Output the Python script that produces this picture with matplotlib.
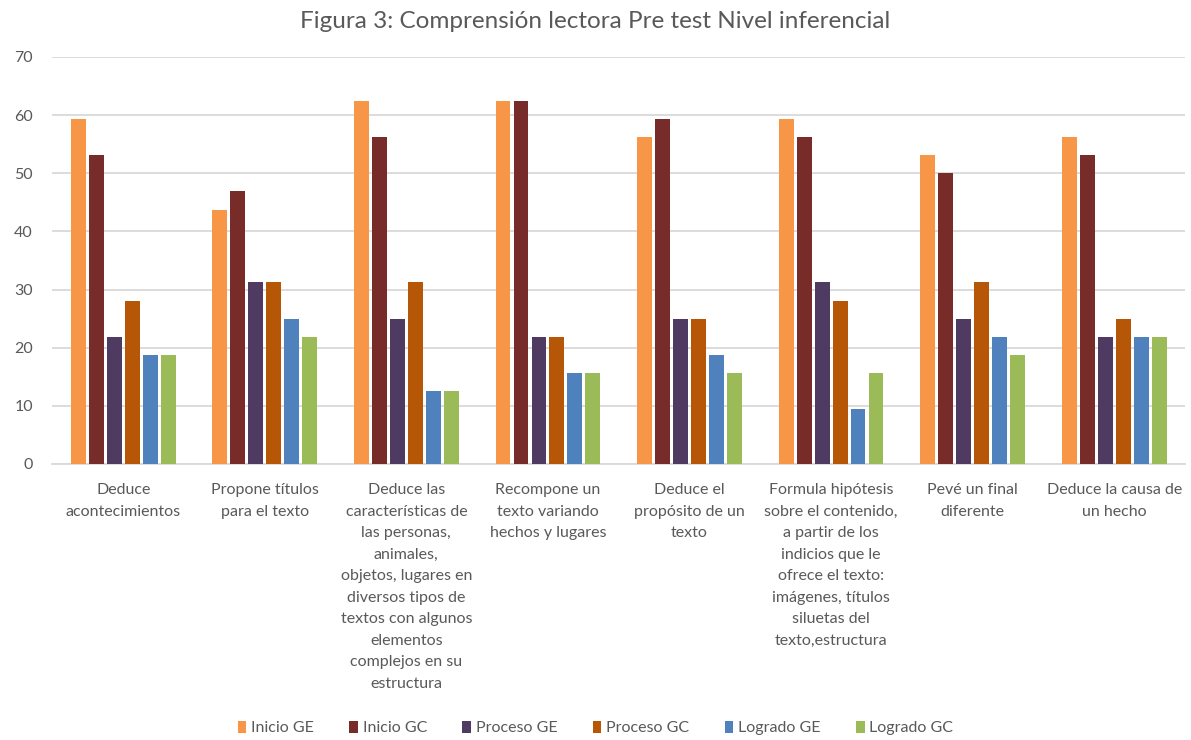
import numpy as np
import matplotlib.pyplot as plt

plt.rcParams['font.family'] = ['Lato', 'DejaVu Sans']

categories = [
    "Deduce\nacontecimientos",
    "Propone títulos\npara el texto",
    "Deduce las\ncaracterísticas de\nlas personas,\nanimales,\nobjetos, lugares en\ndiversos tipos de\ntextos con algunos\nelementos\ncomplejos en su\nestructura",
    "Recompone un\ntexto variando\nhechos y lugares",
    "Deduce el\npropósito de un\ntexto",
    "Formula hipótesis\nsobre el contenido,\na partir de los\nindicios que le\nofrece el texto:\nimágenes, títulos\nsiluetas del\ntexto,estructura",
    "Pevé un final\ndiferente",
    "Deduce la causa de\nun hecho",
]

series = ["Inicio GE", "Inicio GC", "Proceso GE", "Proceso GC", "Logrado GE", "Logrado GC"]

inicio_ge = [59.4, 43.75, 62.5, 62.5, 56.25, 59.4, 53.1, 56.25]
inicio_gc = [53.1, 46.9, 56.25, 62.5, 59.4, 56.25, 50.0, 53.1]
proceso_ge = [21.9, 31.25, 25.0, 21.9, 25.0, 31.25, 25.0, 21.9]
proceso_gc = [28.1, 31.25, 31.25, 21.9, 25.0, 28.1, 31.25, 25.0]
logrado_ge = [18.75, 25.0, 12.5, 15.6, 18.75, 9.4, 21.9, 21.9]
logrado_gc = [18.75, 21.9, 12.5, 15.6, 15.6, 15.6, 18.75, 21.9]

valeurs = [inicio_ge, inicio_gc, proceso_ge, proceso_gc, logrado_ge, logrado_gc]
couleurs = ['#F79646', '#772C2A', '#4F3B62', '#B65708', '#4F81BD', '#9BBB59']

fig = plt.figure(figsize=(11.91, 7.40), dpi=100)
ax = fig.add_axes([0.044, 0.373, 0.951, 0.550])

x = np.arange(len(categories))
pas = 0.127      # distance entre barres d'un même groupe
largeur = 0.105  # barre plus étroite -> petit espace blanc
for i, (nom, v, c) in enumerate(zip(series, valeurs, couleurs)):
    ax.bar(x + (i - 2.5) * pas, v, largeur, color=c, label=nom, zorder=3)

ax.set_xlim(-0.5, len(categories) - 0.5)
ax.set_ylim(0, 70)
ax.set_yticks(range(0, 71, 10))
ax.yaxis.grid(True, color='#D9D9D9', linewidth=1.3, zorder=0)
for s in ['top', 'right', 'left']:
    ax.spines[s].set_visible(False)
ax.spines['bottom'].set_color('#D9D9D9')
ax.spines['bottom'].set_linewidth(1.3)
ax.tick_params(axis='both', length=0, colors='#595959', labelsize=11.5)
ax.tick_params(axis='y', pad=14)
ax.set_xticks(x)
ax.set_xticklabels(categories, linespacing=1.68, va='top')
ax.tick_params(axis='x', pad=14)

fig.suptitle("Figura 3: Comprensión lectora Pre test Nivel inferencial",
             y=0.985, fontsize=17.5, color='#595959')

fig.legend(loc='lower center', ncol=6, frameon=False, fontsize=11.5,
           bbox_to_anchor=(0.5, -0.013), handlelength=0.55, handleheight=0.8,
           handletextpad=0.3, columnspacing=2.2, labelcolor='#595959')

plt.savefig('out.png', dpi=100)
